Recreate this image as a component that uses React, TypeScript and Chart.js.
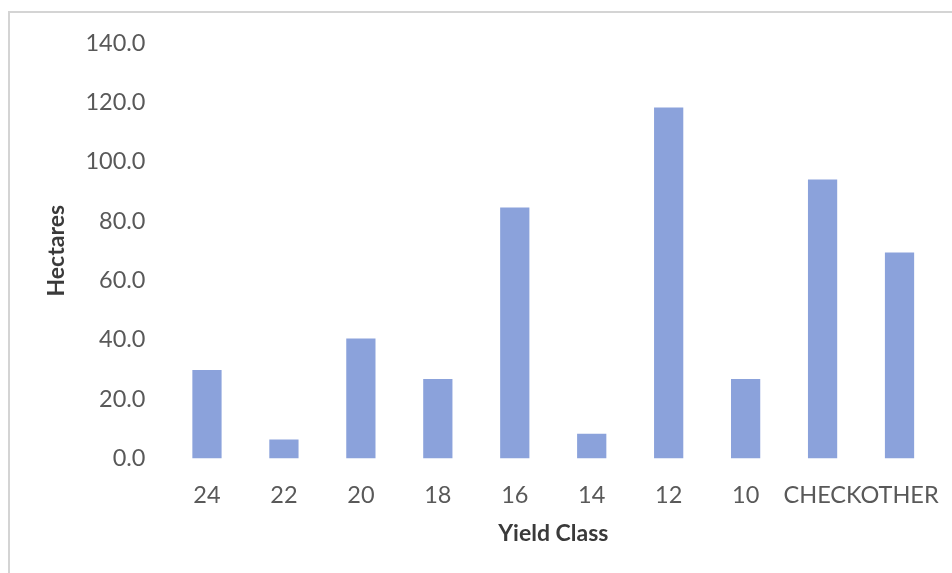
import React, { useEffect, useRef } from "react";
import { Chart, registerables } from "chart.js";

Chart.register(...registerables);

const categories: string[] = ["24", "22", "20", "18", "16", "14", "12", "10", "CHECK", "OTHER"];
const hectares: number[] = [29.8, 6.4, 40.4, 26.8, 84.6, 8.3, 118.3, 26.8, 94.0, 69.4];
const yTicks: number[] = [0, 20, 40, 60, 80, 100, 120, 140];
const xTitle = "Yield Class";
const yTitle = "Hectares";

export default function App() {
  const canvasRef = useRef<HTMLCanvasElement | null>(null);

  useEffect(() => {
    const canvas = canvasRef.current;
    if (!canvas) return;
    const chart = new Chart(canvas, {
      type: "bar",
      data: {
        labels: categories,
        datasets: [
          {
            label: yTitle,
            data: hectares,
            backgroundColor: "#8ba2db",
            borderWidth: 0,
            barPercentage: 0.38,
            categoryPercentage: 1,
          },
        ],
      },
      options: {
        responsive: false,
        animation: false,
        maintainAspectRatio: false,
        layout: { padding: { left: 43, right: 14, top: 43, bottom: 26 } },
        plugins: {
          legend: { display: false },
          tooltip: { enabled: false },
        },
        scales: {
          x: {
            afterFit: (scale: any) => {
              scale.height = 88.5;
              scale.paddingLeft = 0;
              scale.paddingRight = 0;
            },
            grid: { display: false, drawTicks: false },
            border: { display: false },
            ticks: {
              autoSkip: false,
              maxRotation: 0,
              minRotation: 0,
              padding: 23,
              color: "#595959",
              font: { family: "Lato", size: 23.5 },
            },
            title: {
              display: true,
              text: xTitle,
              color: "#3a3a3a",
              padding: { top: 0, bottom: 0 },
              font: { family: "Lato", size: 23, weight: "bold" },
            },
          },
          y: {
            min: 0,
            max: 140,
            afterBuildTicks: (scale: any) => {
              scale.ticks = yTicks.map((v) => ({ value: v }));
            },
            afterFit: (scale: any) => {
              scale.width = 125.5;
            },
            grid: { display: false, drawTicks: false },
            border: { display: false },
            ticks: {
              padding: 23,
              color: "#595959",
              font: { family: "Lato", size: 23.5 },
              callback: (v: any) => Number(v).toFixed(1),
            },
            title: {
              display: true,
              text: yTitle,
              color: "#3a3a3a",
              padding: { top: 0, bottom: 0 },
              font: { family: "Lato", size: 23, weight: "bold" },
            },
          },
        },
      },
    });
    return () => chart.destroy();
  }, []);

  return (
    <div style={{ position: "fixed", left: 0, top: 0, width: 952, height: 573, background: "#fff" }}>
      <div
        style={{
          position: "absolute",
          left: 8,
          top: 11,
          width: 944,
          height: 562,
          boxSizing: "border-box",
          borderTop: "2px solid #d4d4d4",
          borderLeft: "2px solid #d4d4d4",
        }}
      />
      <canvas ref={canvasRef} width={952} height={573} style={{ position: "absolute", left: 0, top: 0, width: 952, height: 573 }} />
    </div>
  );
}
